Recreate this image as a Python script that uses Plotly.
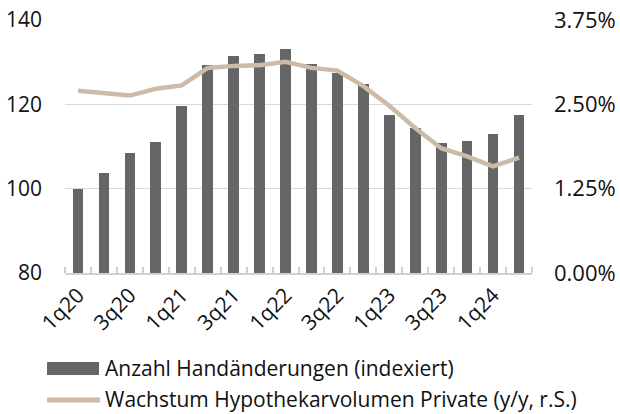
import plotly.graph_objects as go

quarters = ["1q20","2q20","3q20","4q20","1q21","2q21","3q21","4q21","1q22","2q22",
            "3q22","4q22","1q23","2q23","3q23","4q23","1q24","2q24"]
handaenderungen = [100.0, 103.7, 108.4, 111.1, 119.5, 129.3, 131.5, 131.9, 133.1, 129.6,
                   127.4, 124.9, 117.5, 114.4, 110.8, 111.4, 112.9, 117.5]
hypo_wachstum = [2.70, 2.66, 2.63, 2.73, 2.78, 3.04, 3.07, 3.08, 3.13, 3.04,
                 3.00, 2.77, 2.48, 2.15, 1.85, 1.73, 1.58, 1.71]
left_ticks = [80, 100, 120, 140]
right_ticks = [0.0, 1.25, 2.50, 3.75]
right_labels = ["0.00%", "1.25%", "2.50%", "3.75%"]

BAR_NAME = "Anzahl Handänderungen (indexiert)"
LINE_NAME = "Wachstum Hypothekarvolumen Private (y/y, r.S.)"
BAR_COLOR = "#666666"
LINE_COLOR = "#CDBBA8"
FONT = "Open Sans"
TXT = "#111111"

W, H = 620, 414
ML, MR, MT, MB = 65, 88, 20, 141
PW, PH = W - ML - MR, H - MT - MB

def px_x(px):
    return (px - ML) / PW

def px_y(py):
    return (H - MB - py) / PH

x = list(range(len(quarters)))

fig = go.Figure()
fig.add_trace(go.Bar(x=x, y=handaenderungen, name=BAR_NAME,
                     marker=dict(color=BAR_COLOR, line=dict(width=0)), width=0.41,
                     yaxis="y"))
fig.add_trace(go.Scatter(x=x, y=hypo_wachstum, name=LINE_NAME,
                         mode="lines", line=dict(color=LINE_COLOR, width=4.5), yaxis="y2"))

# legend drawn below the plot
shapes = [
    dict(type="rect", xref="paper", yref="paper",
         x0=px_x(47), x1=px_x(99), y0=px_y(375), y1=px_y(362),
         fillcolor=BAR_COLOR, line=dict(width=0), layer="above"),
    dict(type="line", xref="paper", yref="paper",
         x0=px_x(47), x1=px_x(100), y0=px_y(400), y1=px_y(400),
         line=dict(color=LINE_COLOR, width=5), layer="above"),
]
annotations = [
    dict(text=BAR_NAME, xref="paper", yref="paper", x=px_x(103), y=px_y(368),
         xanchor="left", yanchor="middle", showarrow=False,
         font=dict(family=FONT, size=21, color=TXT)),
    dict(text=LINE_NAME, xref="paper", yref="paper", x=px_x(103), y=px_y(399),
         xanchor="left", yanchor="middle", showarrow=False,
         font=dict(family=FONT, size=21, color=TXT)),
]

fig.update_layout(
    width=W, height=H,
    margin=dict(l=ML, r=MR, t=MT, b=MB, pad=0),
    plot_bgcolor="white", paper_bgcolor="white",
    font=dict(family=FONT, size=21, color=TXT),
    bargap=0,
    showlegend=False,
    shapes=shapes,
    annotations=annotations,
    xaxis=dict(range=[-0.5, len(quarters) - 0.5], tickvals=x[::2], ticktext=quarters[::2],
               tickangle=-45, ticks="", showgrid=False, zeroline=False, automargin=False,
               showline=True, linecolor="#d0d0d0", linewidth=1.5,
               minor=dict(ticks="inside", tick0=-0.5, dtick=1, ticklen=6,
                          tickcolor="#d0d0d0", tickwidth=1.5, showgrid=False),
               tickfont=dict(size=21)),
    yaxis=dict(range=[80, 140], tickvals=left_ticks, showgrid=True, gridcolor="#d9d9d9",
               gridwidth=1.2, zeroline=False, ticks="", showline=False, ticklabelstandoff=22,
               automargin=False, tickfont=dict(size=21)),
    yaxis2=dict(range=[0, 3.75], tickvals=right_ticks, ticktext=right_labels,
                overlaying="y", side="right",
                showgrid=False, zeroline=False, automargin=False,
                ticks="", showline=False, ticklabelstandoff=21, tickfont=dict(size=22)),
)

fig.write_html("out.html", config={"displayModeBar": False},
               post_script="document.body.style.margin='0';document.body.style.overflow='hidden';")
